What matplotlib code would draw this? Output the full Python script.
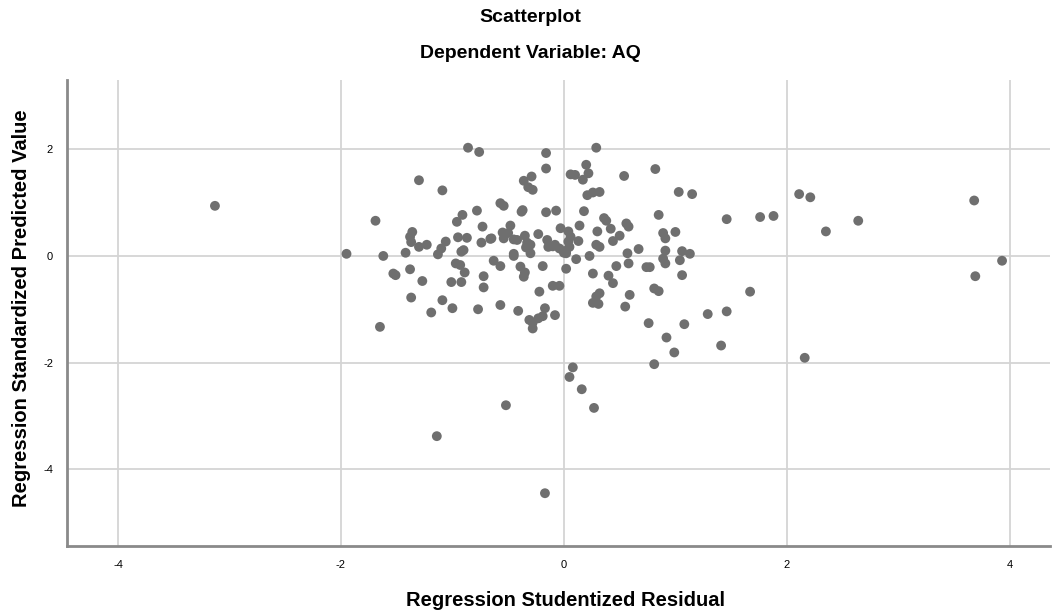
import matplotlib
matplotlib.use("Agg")
import matplotlib.pyplot as plt

plt.rcParams['font.family'] = ['Liberation Sans', 'DejaVu Sans']
plt.rcParams['axes.unicode_minus'] = False

# residuals (x) and predicted values (y)
resid = [
    -3.13, -1.95, -1.62, -1.69, -1.65, -1.53, -1.51, -1.42, -1.38, -1.37,
    -1.36, -1.38, -1.37, -1.30, -1.30, -1.23, -1.27, -1.19, -1.14, -1.09,
    -1.06, -1.10, -1.13, -1.09, -1.01, -0.92, -1.00, -0.97, -0.93, -0.96,
    -0.91, -0.95, -0.87, -0.92, -0.90, -0.89, -0.86, -0.76, -0.78, -0.77,
    -0.74, -0.66, -0.73, -0.72, -0.72, -0.65, -0.63, -0.57, -0.57, -0.54,
    -0.57, -0.55, -0.54, -0.50, -0.52, -0.48, -0.45, -0.45, -0.45, -0.41,
    -0.39, -0.37, -0.38, -0.35, -0.36, -0.36, -0.29, -0.35, -0.33, -0.30,
    -0.34, -0.30, -0.32, -0.28, -0.31, -0.28, -0.28, -0.23, -0.23, -0.19,
    -0.17, -0.22, -0.19, -0.17, -0.16, -0.16, -0.16, -0.07, -0.15, -0.14,
    -0.10, -0.04, -0.08, -0.04, -0.08, -0.03, 0.02, 0.02, 0.04, 0.06,
    0.04, 0.05, 0.05, 0.06, 0.10, 0.08, 0.11, 0.13, 0.14, 0.16,
    0.17, 0.20, 0.22, 0.18, 0.21, 0.26, 0.32, 0.23, 0.26, 0.27,
    0.29, 0.29, 0.32, 0.30, 0.32, 0.29, 0.26, 0.31, 0.36, 0.38,
    0.40, 0.44, 0.42, 0.44, 0.47, 0.50, 0.54, 0.55, 0.56, 0.58,
    0.57, 0.58, 0.59, 0.67, 0.74, 0.77, 0.76, 0.82, 0.81, 0.85,
    0.81, 0.85, 0.89, 0.91, 0.91, 0.89, 0.91, 0.92, 0.99, 1.00,
    1.03, 1.15, 1.04, 1.06, 1.13, 1.06, 1.08, 1.29, 1.41, 1.46,
    1.46, 1.67, 1.76, 1.88, 2.11, 2.21, 2.16, 2.35, 2.64, 3.68,
    3.93, 3.69, -0.42, -0.10, 0.02, 0.00,
]
pred = [
    0.94, 0.04, 0.00, 0.66, -1.33, -0.33, -0.36, 0.06, -0.25, -0.78,
    0.45, 0.36, 0.26, 1.42, 0.17, 0.21, -0.47, -1.06, -3.38, 1.23,
    0.27, 0.14, 0.03, -0.83, -0.49, -0.49, -0.98, -0.14, -0.17, 0.64,
    0.77, 0.35, 0.34, 0.08, 0.11, -0.31, 2.03, 1.95, 0.85, -1.00,
    0.25, 0.32, 0.55, -0.38, -0.59, 0.33, -0.09, -0.19, 0.99, 0.94,
    -0.92, 0.44, 0.33, 0.43, -2.80, 0.57, 0.31, 0.04, 0.00, -1.03,
    -0.20, 0.86, 0.83, -0.31, -0.39, 1.41, 1.49, 0.38, 0.25, 0.21,
    0.16, 0.05, 1.29, 1.24, -1.20, -1.25, -1.36, 0.41, -1.17, -1.13,
    -0.98, -0.67, -0.19, -4.45, 1.93, 1.64, 0.82, 0.85, 0.30, 0.17,
    -0.56, -0.56, 0.21, 0.14, -1.11, 0.52, 0.05, -0.24, 0.46, 0.36,
    0.27, 0.17, -2.27, 1.53, 1.52, -2.09, -0.06, 0.28, 0.57, -2.50,
    1.43, 1.71, 1.55, 0.84, 1.14, 1.19, 1.20, 0.00, -0.33, -2.85,
    2.03, 0.21, 0.17, 0.46, -0.70, -0.76, -0.88, -0.90, 0.71, 0.66,
    -0.37, -0.51, 0.51, 0.28, -0.19, 0.38, 1.50, -0.95, 0.61, 0.55,
    0.05, -0.14, -0.73, 0.13, -0.21, -0.21, -1.26, 1.63, -0.61, -0.66,
    -2.03, 0.77, 0.43, 0.33, 0.10, -0.05, -0.14, -1.53, -1.81, 0.45,
    1.20, 1.16, -0.08, 0.09, 0.04, -0.36, -1.28, -1.09, -1.68, 0.69,
    -1.04, -0.67, 0.73, 0.75, 1.16, 1.10, -1.91, 0.46, 0.66, 1.04,
    -0.09, -0.38, 0.30, 0.18, 0.10, 0.06,
]

x_ticks = [-4, -2, 0, 2, 4]
y_ticks = [-4, -2, 0, 2]

fig = plt.figure(figsize=(10.52, 6.13), dpi=100)
ax = fig.add_axes([67 / 1052, 1 - 546 / 613, (1050 - 67) / 1052, (546 - 80) / 613])

ax.scatter(resid, pred, s=50, color='#6f6f6f', edgecolors='none', zorder=3)

ax.set_xlim(-4.457, 4.36)
ax.set_ylim(-5.44, 3.30)
ax.set_xticks(x_ticks)
ax.set_yticks(y_ticks)
ax.tick_params(length=0, labelsize=8, colors='#000000', pad=10)
ax.grid(True, color='#d4d4d4', linewidth=1.3, zorder=0)
ax.set_axisbelow(True)

for side in ['top', 'right']:
    ax.spines[side].set_visible(False)
for side in ['left', 'bottom']:
    ax.spines[side].set_color('#8a8a8a')
    ax.spines[side].set_linewidth(2)

fig.text(530 / 1052, 1 - 18 / 613, 'Scatterplot', ha='center', va='center',
         fontsize=14, fontweight='bold')
fig.text(530 / 1052, 1 - 53 / 613, 'Dependent Variable: AQ', ha='center', va='center',
         fontsize=14, fontweight='bold')
fig.text(565 / 1052, 1 - 600 / 613, 'Regression Studentized Residual', ha='center',
         va='center', fontsize=14.5, fontweight='bold')
fig.text(22 / 1052, 1 - 308 / 613, 'Regression Standardized Predicted Value',
         ha='center', va='center', rotation=90, fontsize=14.5, fontweight='bold')

fig.savefig('out.png', dpi=100)
